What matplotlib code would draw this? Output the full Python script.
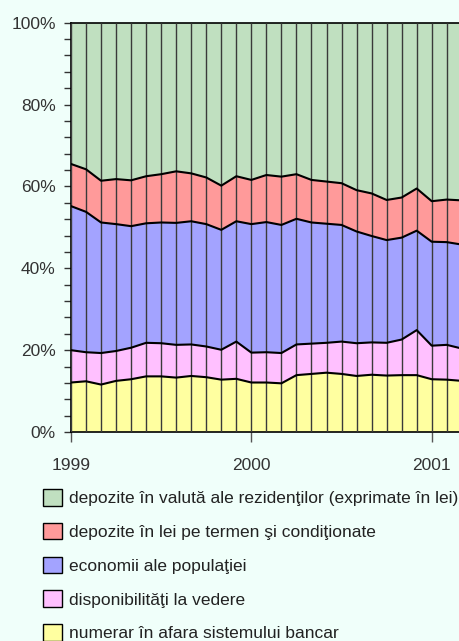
import matplotlib
matplotlib.use("Agg")
import matplotlib.pyplot as plt
from matplotlib.patches import Patch
from matplotlib.ticker import MultipleLocator, FixedLocator, PercentFormatter

plt.rcParams["font.family"] = ["Liberation Sans Narrow", "Liberation Sans", "DejaVu Sans"]

# monthly, Jan 1999 .. Mar 2001 (shares in %)
months = list(range(27))
numerar = [12.1, 12.4, 11.6, 12.5, 12.9, 13.6, 13.6, 13.3, 13.7, 13.4, 12.8, 13.0, 12.1,
           12.1, 11.9, 13.9, 14.2, 14.5, 14.2, 13.7, 14.0, 13.8, 13.9, 13.9, 12.9, 12.8, 12.5]
vedere = [7.9, 7.1, 7.7, 7.3, 7.7, 8.2, 8.1, 8.0, 7.7, 7.5, 7.3, 9.1, 7.3,
          7.4, 7.4, 7.5, 7.4, 7.3, 7.9, 8.0, 7.9, 8.0, 8.7, 11.0, 8.2, 8.5, 7.9]
economii = [35.2, 34.3, 31.9, 31.0, 29.7, 29.2, 29.5, 29.8, 30.1, 29.9, 29.3, 29.4, 31.4,
            31.8, 31.3, 30.7, 29.6, 29.1, 28.5, 27.3, 26.0, 25.1, 24.9, 24.3, 25.4, 25.1, 25.4]
termen = [10.3, 10.4, 10.2, 11.0, 11.2, 11.5, 11.8, 12.6, 11.7, 11.4, 10.8, 11.0, 10.8,
          11.5, 11.8, 10.9, 10.4, 10.3, 10.2, 10.1, 10.4, 9.8, 9.8, 10.3, 9.9, 10.4, 10.8]
valuta = [34.5, 35.8, 38.6, 38.2, 38.5, 37.5, 37.0, 36.3, 36.8, 37.8, 39.8, 37.5, 38.4,
          37.2, 37.6, 37.0, 38.4, 38.8, 39.2, 40.9, 41.7, 43.3, 42.7, 40.5, 43.6, 43.2, 43.4]

series = [numerar, vedere, economii, termen, valuta]
labels = [
    "numerar în afara sistemului bancar",
    "disponibilităţi la vedere",
    "economii ale populaţiei",
    "depozite în lei pe termen şi condiţionate",
    "depozite în valută ale rezidenţilor (exprimate în lei)",
]
colors = ["#FFFFA0", "#FFC0FF", "#A3A3FF", "#FF9A9A", "#C0E0C0"]
year_ticks = [0, 12, 24]
year_labels = ["1999", "2000", "2001"]

bg = "#F0FFFA"
fig = plt.figure(figsize=(4.6, 6.41), dpi=100, facecolor=bg)
ax = fig.add_axes([0.1543, 0.326, 0.8496, 0.6385])
ax.set_facecolor(bg)

ax.stackplot(months, *series, colors=colors, linewidth=0)
ax.vlines(months, 0, 100, color="#3a3a3a", linewidth=1.0, zorder=3)

cum = [0.0] * len(months)
for s in series[:-1]:
    cum = [c + v for c, v in zip(cum, s)]
    ax.plot(months, cum, color="black", linewidth=1.5, zorder=4)

ax.set_xlim(0, 26)
ax.set_ylim(0, 100)
ax.yaxis.set_major_locator(MultipleLocator(20))
ax.yaxis.set_minor_locator(MultipleLocator(4))
ax.yaxis.set_major_formatter(PercentFormatter(decimals=0))
ax.xaxis.set_major_locator(FixedLocator(year_ticks))
ax.set_xticklabels(year_labels)
ax.tick_params(axis="y", which="both", length=5, width=1, color="#333333",
               labelsize=12.5, labelcolor="#333333", pad=6)
ax.tick_params(axis="x", length=7, width=1, color="#555555",
               labelsize=12.5, labelcolor="#333333", pad=12)
for side in ["left", "bottom", "top"]:
    ax.spines[side].set_color("black")
    ax.spines[side].set_linewidth(1.2)
ax.spines["right"].set_visible(False)

handles = [Patch(facecolor=c, edgecolor="black", linewidth=1) for c in colors[::-1]]
fig.legend(handles, labels[::-1], loc="upper left", bbox_to_anchor=(0.094, 0.237),
           frameon=False, fontsize=12.5, handlelength=1.1, handleheight=1.1,
           handletextpad=0.4, labelspacing=0.95, borderaxespad=0, borderpad=0,
           labelcolor="#222222")

fig.savefig("out.png", dpi=100, facecolor=bg)
